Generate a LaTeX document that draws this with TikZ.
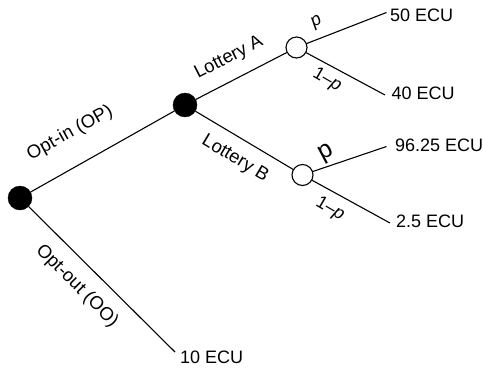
\documentclass[tikz,border=0pt]{standalone}
\usepackage{fontspec}
\setmainfont{Liberation Sans}
\begin{document}
\begin{tikzpicture}[x=1pt,y=-1pt,
  branch/.style={line width=1.1pt},
  decision/.style={circle,fill=black,draw=black,minimum size=24pt,inner sep=0pt},
  chance/.style={circle,fill=white,draw=black,line width=1.1pt,minimum size=21pt,inner sep=0pt},
  payoff/.style={anchor=west,inner sep=0pt,font=\fontsize{18}{20}\selectfont},
  lab/.style={inner sep=0pt,font=\fontsize{18.5}{20}\selectfont},
  prob/.style={inner sep=0pt,font=\fontsize{18}{20}\selectfont},
  bigprob/.style={inner sep=0pt,font=\fontsize{25}{27}\selectfont}]
\useasboundingbox (0,0) rectangle (484,367);

% decision and chance nodes
\node[decision] (root) at (20,198) {};
\node[decision] (mid) at (185,105) {};
\node[chance] (ca) at (296.5,47.5) {};
\node[chance] (cb) at (302.5,175) {};

% free ends of the branches
\coordinate (e50) at (386.5,12.5);
\coordinate (e40) at (385,95);
\coordinate (e96) at (386.5,146.5);
\coordinate (e25) at (390,223);
\coordinate (e10) at (175,352);

% branches
\draw[branch] (root) -- (mid);
\draw[branch] (root) -- (e10);
\draw[branch] (mid) -- (ca);
\draw[branch] (mid) -- (cb);
\draw[branch] (ca) -- (e50);
\draw[branch] (ca) -- (e40);
\draw[branch] (cb) -- (e96);
\draw[branch] (cb) -- (e25);

% payoffs
\node[payoff] (p50) at (390,15) {50 ECU};
\node[payoff] (p40) at (391.5,93) {40 ECU};
\node[payoff] (p96) at (395,145) {96.25 ECU};
\node[payoff] (p25) at (396,221) {2.5 ECU};
\node[payoff] (p10) at (180,357) {10 ECU};

% branch labels
\node[lab,rotate=29] (lin) at (70,133) {Opt-in (OP)};
\node[lab,rotate=-45] (lout) at (77,286) {Opt-out (OO)};
\node[lab,rotate=27] (la) at (229,58) {Lottery A};
\node[lab,rotate=-31] (lb) at (235,159) {Lottery B};

% probabilities
\node[prob,rotate=30] (pa) at (317,22) {\textit{p}};
\node[prob,rotate=-30] (qa) at (327,80) {1–\textit{p}};
\node[bigprob,rotate=28] (pb) at (327,154) {p};
\node[prob,rotate=-30] (qb) at (330,209) {1–\textit{p}};
\end{tikzpicture}
\end{document}
